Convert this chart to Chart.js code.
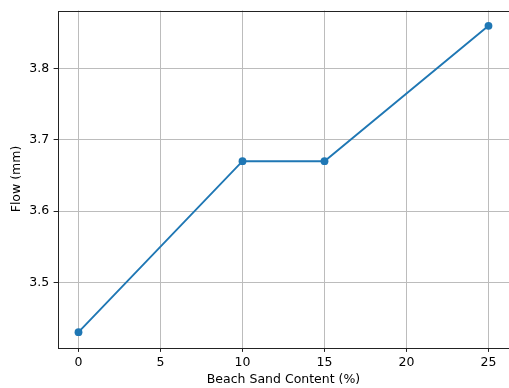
<!DOCTYPE html>
<html>
<head>
<meta charset="utf-8">
<script src="https://cdn.jsdelivr.net/npm/chart.js@4"></script>
<style>
  html, body { margin: 0; padding: 0; background: #fff; }
  canvas { display: block; }
</style>
</head>
<body>
<canvas id="c" width="509" height="388"></canvas>
<script>
// Flow measured against beach sand replacement level
const sandContent = [0, 10, 15, 25];
const flowMm = [3.43, 3.67, 3.67, 3.86];
const xTicks = [0, 5, 10, 15, 20, 25];
const yTicks = [3.5, 3.6, 3.7, 3.8];

const FONT = { family: 'DejaVu Sans', size: 12.5 };
const INK = '#000';
const SPINE = '#222';
const GRID = '#bcbcbc';

// axis limits with a 5% margin around the data
const xSpan = Math.max(...sandContent) - Math.min(...sandContent);
const ySpan = Math.max(...flowMm) - Math.min(...flowMm);
const xMin = Math.min(...sandContent) - 0.05 * xSpan;
const xMax = Math.max(...sandContent) + 0.05 * xSpan;
const yMin = Math.min(...flowMm) - 0.05 * ySpan;
const yMax = Math.max(...flowMm) + 0.05 * ySpan;

// frame around the plotting area, drawn on top of the series
const frame = {
  id: 'frame',
  afterDraw(chart) {
    const { ctx, chartArea: a } = chart;
    ctx.save();
    ctx.strokeStyle = SPINE;
    ctx.lineWidth = 1;
    ctx.strokeRect(Math.round(a.left) + 0.5, Math.round(a.top) + 0.5,
                   Math.round(a.right) - Math.round(a.left),
                   Math.round(a.bottom) - Math.round(a.top));
    ctx.restore();
  }
};

new Chart(document.getElementById('c'), {
  type: 'line',
  data: {
    datasets: [{
      data: sandContent.map((x, i) => ({ x, y: flowMm[i] })),
      borderColor: '#1f77b4',
      backgroundColor: '#1f77b4',
      borderWidth: 1.9,
      pointRadius: 3.9,
      pointHoverRadius: 3.9,
      pointBorderWidth: 0,
      tension: 0,
      fill: false,
      clip: false
    }]
  },
  options: {
    responsive: false,
    devicePixelRatio: 1,
    animation: false,
    layout: { autoPadding: false, padding: { top: 10.5, left: 0, right: 0, bottom: 0 } },
    plugins: { legend: { display: false }, tooltip: { enabled: false } },
    scales: {
      x: {
        type: 'linear',
        min: xMin,
        max: xMax,
        afterBuildTicks(s) { s.ticks = xTicks.map(v => ({ value: v })); },
        afterFit(s) { s.height = 40.5; s.paddingLeft = 0; s.paddingRight = 0; },
        grid: { color: GRID, lineWidth: 1, tickColor: SPINE, tickLength: 4.4, tickWidth: 1 },
        border: { display: false },
        ticks: { font: FONT, color: INK, padding: 3.5, maxRotation: 0, callback: v => String(v) },
        title: { display: true, text: 'Beach Sand Content (%)', font: FONT, color: INK, padding: { top: 0, bottom: 0.5 } }
      },
      y: {
        type: 'linear',
        min: yMin,
        max: yMax,
        afterBuildTicks(s) { s.ticks = yTicks.map(v => ({ value: v })); },
        afterFit(s) { s.width = 58; s.paddingTop = 0; s.paddingBottom = 0; },
        grid: { color: GRID, lineWidth: 1, tickColor: SPINE, tickLength: 4.4, tickWidth: 1 },
        border: { display: false },
        ticks: { font: FONT, color: INK, padding: 4.4, callback: v => v.toFixed(1) },
        title: { display: true, text: 'Flow (mm)', font: FONT, color: INK, padding: { top: 9.5, bottom: 0 } }
      }
    }
  },
  plugins: [frame]
});
</script>
</body>
</html>
